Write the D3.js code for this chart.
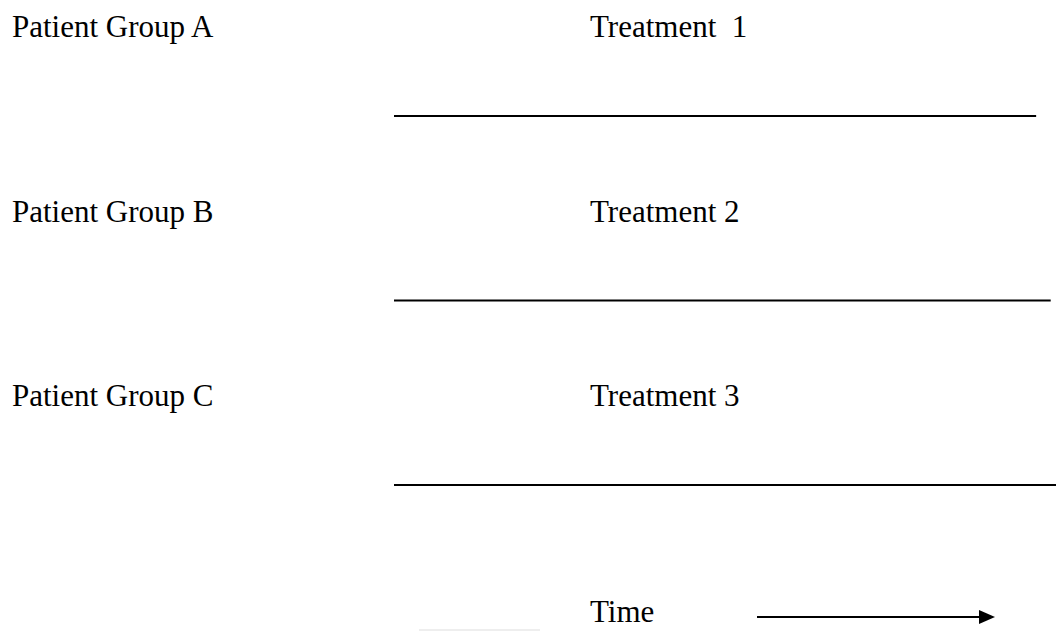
<!DOCTYPE html>
<html>
<head>
<meta charset="utf-8">
<script src="https://cdn.jsdelivr.net/npm/d3@7"></script>
<style>
  body { margin: 0; background: #fff; }
  text { font-family: "Liberation Serif", "Times New Roman", serif; font-size: 31px; fill: #000; white-space: pre; }
</style>
</head>
<body>
<svg id="vis"></svg>
<script>
const width = 1056;
const height = 631;

// rows of the design
const groups = ["Patient Group A", "Patient Group B", "Patient Group C"];
const treatments = ["Treatment  1", "Treatment 2", "Treatment 3"];
// end of each treatment line, in time units (0-100)
const lineEnds = [97, 99.2, 100];
const timeLabel = "Time";

const svg = d3.select("svg#vis")
  .attr("width", width)
  .attr("height", height);

let y = d3.scalePoint().domain(groups).range([37, 406]);
let x = d3.scaleLinear().domain([0, 100]).range([394, 1056]);

const rows = groups.map((g, i) => ({ group: g, treatment: treatments[i], end: lineEnds[i] }));

const row = svg.selectAll("g.row")
  .data(rows)
  .enter()
  .append("g")
  .attr("class", "row");

row.append("text")
  .attr("x", 12)
  .attr("y", d => y(d.group))
  .text(d => d.group);

row.append("text")
  .attr("x", 590)
  .attr("y", d => y(d.group))
  .text(d => d.treatment);

row.append("line")
  .attr("x1", x(0))
  .attr("x2", d => x(d.end))
  .attr("y1", d => y(d.group) + 79)
  .attr("y2", d => y(d.group) + 79)
  .style("stroke", "#000")
  .style("stroke-width", 2);

// time arrow
svg.append("text")
  .attr("x", 590)
  .attr("y", 622)
  .text(timeLabel);

svg.append("line")
  .attr("x1", 757)
  .attr("x2", 981)
  .attr("y1", 617)
  .attr("y2", 617)
  .style("stroke", "#000")
  .style("stroke-width", 2);

svg.append("path")
  .attr("d", d3.line()([[979, 610], [995, 617], [979, 624]]) + "Z")
  .style("fill", "#000");

// faint mark at the bottom edge
svg.append("rect")
  .attr("x", 419)
  .attr("y", 629)
  .attr("width", 121)
  .attr("height", 2)
  .style("fill", "#eeeeee");
</script>
</body>
</html>
